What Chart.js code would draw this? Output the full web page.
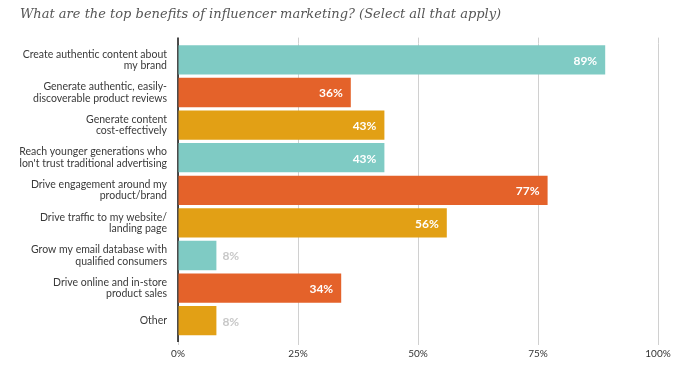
<!DOCTYPE html>
<html>
<head>
<meta charset="utf-8">
<script src="https://cdn.jsdelivr.net/npm/chart.js@4"></script>
<style>
  body { margin: 0; background: #fff; }
  #wrap { width: 700px; height: 370px; }
</style>
</head>
<body>
<div id="wrap"><canvas id="benefits-chart"></canvas></div>
<script>
var categories = [
    ["Create authentic content about", "my brand"],
    ["Generate authentic, easily-", "discoverable product reviews"],
    ["Generate content", "cost-effectively"],
    ["Reach younger generations who", "don't trust traditional advertising"],
    ["Drive engagement around my", "product/brand"],
    ["Drive traffic to my website/", "landing page"],
    ["Grow my email database with", "qualified consumers"],
    ["Drive online and in-store", "product sales"],
    "Other"
];
var values = [89, 36, 43, 43, 77, 56, 8, 34, 8];
var barColors = ["#7fcbc4", "#e4622a", "#e2a015", "#7fcbc4", "#e4622a", "#e2a015", "#7fcbc4", "#e4622a", "#e2a015"];
var xTicks = [0, 25, 50, 75, 100];

// draws the % labels at the end of each bar
var valueLabels = {
    id: 'valueLabels',
    afterDatasetsDraw: function(chart) {
        var ctx = chart.ctx;
        var meta = chart.getDatasetMeta(0);
        ctx.save();
        ctx.font = "bold 12px Lato";
        ctx.textBaseline = "middle";
        meta.data.forEach(function(bar, i) {
            var txt = values[i] + "%";
            if (values[i] < 15) {
                ctx.fillStyle = "#c8c8c8";
                ctx.textAlign = "left";
                ctx.fillText(txt, bar.x + 6, bar.y + 1);
            } else {
                ctx.fillStyle = "#ffffff";
                ctx.textAlign = "right";
                ctx.fillText(txt, bar.x - 8, bar.y + 1);
            }
        });
        ctx.restore();
    }
};

// the axis line and grid lines run a bit past the plot area
var axisLine = {
    id: 'axisLine',
    beforeDatasetsDraw: function(chart) {
        var a = chart.chartArea;
        var x = chart.scales.x;
        var ctx = chart.ctx;
        ctx.save();
        ctx.strokeStyle = "#d0d0d0";
        ctx.lineWidth = 1;
        xTicks.slice(1).forEach(function(v) {
            var px = Math.round(x.getPixelForValue(v)) + 0.5;
            ctx.beginPath();
            ctx.moveTo(px, a.top - 6);
            ctx.lineTo(px, a.top);
            ctx.stroke();
        });
        ctx.strokeStyle = "#111111";
        ctx.lineWidth = 1.5;
        ctx.beginPath();
        ctx.moveTo(a.left, a.top - 6);
        ctx.lineTo(a.left, a.bottom + 5);
        ctx.stroke();
        ctx.restore();
    }
};

var ctx = document.getElementById("benefits-chart").getContext('2d');
var myChart = new Chart(ctx, {
    type: 'bar',
    data: {
        labels: categories,
        datasets: [{
            data: values,
            backgroundColor: barColors,
            borderWidth: 0,
            barPercentage: 0.9,
            categoryPercentage: 1
        }]
    },
    options: {
        indexAxis: 'y',
        responsive: true,
        maintainAspectRatio: false,
        animation: false,
        layout: { padding: { left: 20, right: 42, top: 5, bottom: 7 } },
        plugins: {
            legend: { display: false },
            tooltip: { enabled: false },
            title: {
                display: true,
                text: "What are the top benefits of influencer marketing? (Select all that apply)",
                align: 'start',
                color: "#555555",
                font: { family: "DejaVu Serif", style: 'italic', size: 13, weight: 'normal' },
                padding: { top: 2, bottom: 21 }
            }
        },
        scales: {
            x: {
                min: 0,
                max: 100,
                afterBuildTicks: function(scale) {
                    scale.ticks = xTicks.map(function(v) { return { value: v }; });
                },
                ticks: {
                    callback: function(v) { return v + "%"; },
                    color: "#333333",
                    font: { family: "Lato", size: 10 },
                    padding: 3
                },
                grid: { color: "#d0d0d0", lineWidth: 1, tickLength: 8, drawOnChartArea: true },
                border: { display: false }
            },
            y: {
                afterFit: function(scale) { scale.width = 158; },
                ticks: {
                    color: "#3a3a3a",
                    font: { family: "Lato", size: 10.5, lineHeight: 1.1 },
                    padding: 11,
                    autoSkip: false
                },
                grid: { display: false, drawTicks: false },
                border: { display: false }
            }
        }
    },
    plugins: [valueLabels, axisLine]
});
</script>
</body>
</html>
